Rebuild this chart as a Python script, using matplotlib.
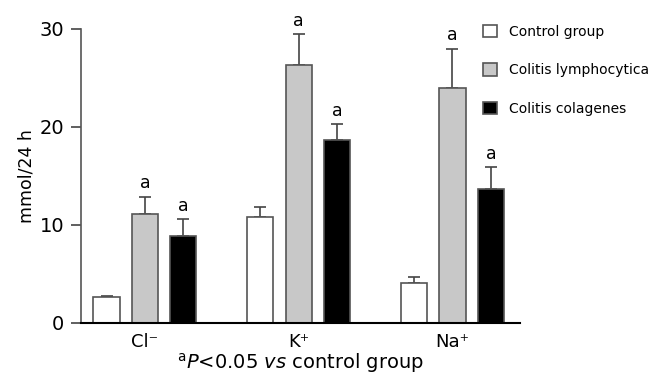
import numpy as np
import matplotlib
matplotlib.use("Agg")
import matplotlib.pyplot as plt
from matplotlib.patches import Patch

ions = ["Cl\u207b", "K\u207a", "Na\u207a"]
groups = ["Control group", "Colitis lymphocytica", "Colitis colagenes"]
control = [2.7, 10.85, 4.1]
control_err = [0.1, 0.95, 0.55]
lympho = [11.15, 26.3, 24.0]
lympho_err = [1.75, 3.2, 4.0]
colag = [8.9, 18.7, 13.7]
colag_err = [1.7, 1.6, 2.2]
signif = [[False, True, True], [False, True, True], [False, True, True]]

fills = ["white", "#c8c8c8", "black"]

fig = plt.figure(figsize=(6.63, 3.76), dpi=100)
ax = fig.add_axes([0.1222, 0.141, 0.6621, 0.7819])

x = np.arange(len(ions))
offsets = [-0.25, 0.0, 0.25]
width = 0.17
series = [(control, control_err), (lympho, lympho_err), (colag, colag_err)]

for j, (vals, errs) in enumerate(series):
    pos = x + offsets[j]
    ax.bar(pos, vals, width, color=fills[j], edgecolor="#555555",
           linewidth=1.2, label=groups[j], zorder=2)
    # only the upper half of the error bar is drawn
    ax.errorbar(pos, vals, yerr=[np.zeros(len(vals)), errs], fmt="none",
                ecolor="#444444", elinewidth=1.2, capsize=4.5, capthick=1.2,
                zorder=1)
    for i in range(len(ions)):
        if signif[i][j]:
            ax.annotate("a", (pos[i], vals[i] + errs[i]), xytext=(0, 3),
                        textcoords="offset points", ha="center", va="bottom",
                        fontsize=12.5)

ax.set_xlim(-0.416, 2.439)
ax.set_ylim(0, 30)
ax.set_yticks([0, 10, 20, 30])
ax.set_xticks(x)
ax.set_xticklabels(ions)
ax.tick_params(axis="x", length=0, pad=7, labelsize=13)
ax.tick_params(axis="y", length=7, width=1.2, color="#444444", pad=5,
               labelsize=14)
ax.set_ylabel("mmol/24 h", fontsize=12.5, labelpad=3)
ax.set_xlabel(r"$^{\mathrm{a}}$$\mathit{P}$<0.05 $\mathit{vs}$ control group",
              fontsize=14, labelpad=0)

for s in ["top", "right"]:
    ax.spines[s].set_visible(False)
ax.spines["left"].set_color("#555555")
ax.spines["left"].set_linewidth(1.2)
ax.spines["bottom"].set_color("black")
ax.spines["bottom"].set_linewidth(1.5)
ax.spines["bottom"].set_zorder(3)

handles = [Patch(facecolor=fills[j], edgecolor="#555555", linewidth=1.2)
           for j in range(3)]
fig.legend(handles, groups, loc="upper left", bbox_to_anchor=(483 / 663, 1 - 25 / 376),
           frameon=False, fontsize=10, handlelength=1.0, handleheight=1.0,
           handletextpad=0.9, labelspacing=1.75, borderpad=0, borderaxespad=0)

fig.savefig("out.png", dpi=100)
